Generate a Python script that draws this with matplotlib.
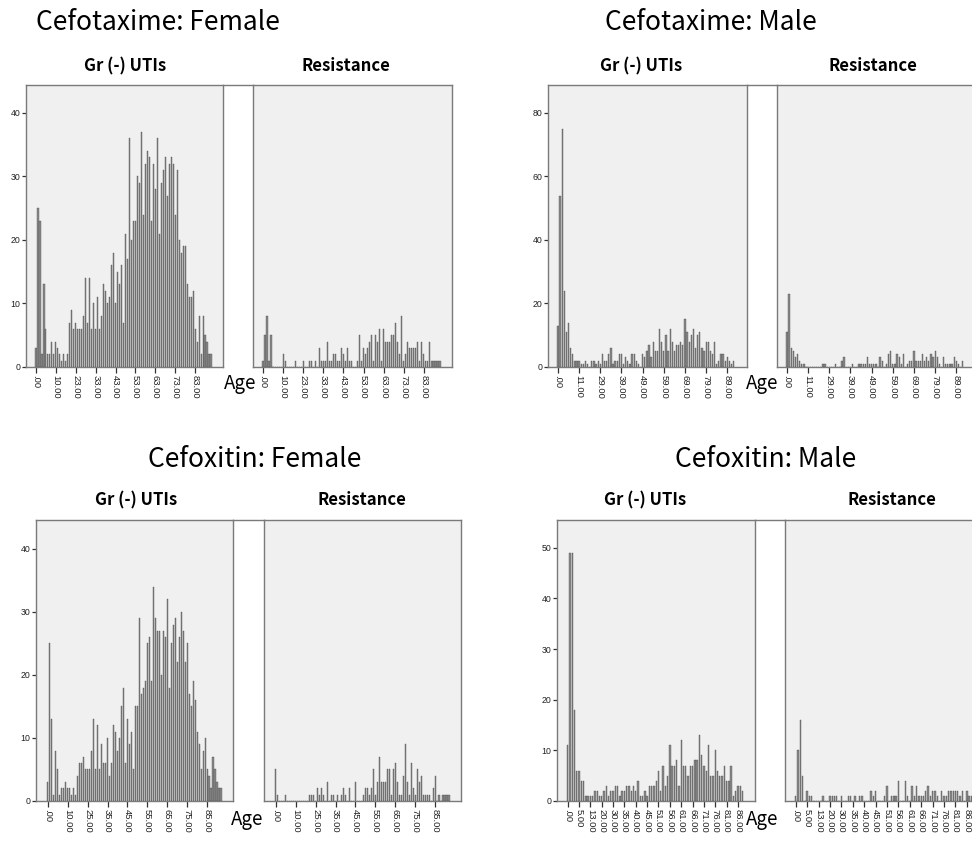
import numpy as np
import matplotlib
matplotlib.use("Agg")
import matplotlib.pyplot as plt
from matplotlib.lines import Line2D

# counts per age category (categorical x axis, SPSS style)
ctx_f_utis = [3, 25, 23, 2, 13, 6, 2, 2, 4, 2, 4, 3, 2, 1, 2, 1, 2, 7, 9, 6,
              7, 6, 6, 6, 8, 14, 7, 14, 6, 10, 6, 11, 6, 8, 13, 12, 10, 11, 16, 18,
              10, 15, 13, 16, 7, 21, 17, 36, 20, 23, 23, 30, 29, 37, 24, 32, 34, 33, 23, 32,
              28, 36, 21, 29, 31, 33, 27, 32, 33, 32, 24, 31, 20, 18, 19, 19, 13, 11, 11, 12,
              6, 4, 8, 2, 8, 5, 4, 2, 2]
ctx_f_res = [1, 5, 8, 1, 5, 0, 0, 0, 0, 0, 2, 1, 0, 0, 0, 0, 1, 0, 0, 0,
             1, 0, 0, 1, 1, 0, 1, 0, 3, 1, 1, 1, 4, 1, 1, 2, 2, 1, 1, 3,
             2, 1, 3, 1, 1, 0, 0, 1, 5, 1, 3, 2, 3, 4, 5, 1, 5, 4, 6, 1,
             6, 4, 4, 4, 5, 5, 7, 4, 2, 8, 1, 2, 4, 3, 3, 3, 3, 4, 1, 4,
             2, 1, 1, 4, 1, 1, 1, 1, 1]
ctx_f_ticks = [".00", "10.00", "23.00", "33.00", "43.00", "53.00", "63.00", "73.00", "83.00"]

ctx_m_utis = [13, 54, 75, 24, 11, 14, 6, 4, 2, 2, 2, 1, 1, 2, 1, 0, 2, 2, 1, 2,
              1, 4, 2, 2, 4, 6, 1, 2, 2, 4, 4, 1, 3, 2, 1, 4, 4, 2, 1, 0,
              4, 3, 5, 7, 3, 8, 5, 5, 12, 8, 5, 10, 5, 12, 8, 5, 7, 7, 8, 7,
              15, 11, 8, 10, 12, 6, 10, 11, 6, 5, 8, 8, 5, 4, 8, 1, 2, 4, 4, 2,
              3, 2, 1, 2]
ctx_m_res = [11, 23, 6, 5, 3, 4, 2, 1, 1, 0, 0, 0, 0, 0, 0, 0, 0, 1, 1, 0,
             0, 0, 0, 1, 0, 0, 2, 3, 0, 0, 0, 1, 0, 0, 1, 1, 1, 1, 3, 1,
             1, 1, 1, 0, 3, 2, 0, 1, 4, 5, 1, 1, 4, 3, 1, 4, 0, 1, 2, 2,
             5, 2, 2, 2, 4, 2, 3, 2, 4, 3, 5, 3, 1, 0, 3, 1, 1, 1, 1, 3,
             2, 1, 0, 2]
ctx_m_ticks = [".00", "11.00", "29.00", "39.00", "49.00", "59.00", "69.00", "79.00", "89.00"]

cfx_f_utis = [3, 25, 13, 1, 8, 5, 1, 2, 2, 3, 2, 2, 1, 2, 1, 4, 6, 6, 7, 5,
              5, 5, 8, 13, 5, 12, 5, 9, 6, 6, 10, 4, 6, 12, 11, 8, 10, 15, 18, 6,
              13, 9, 11, 5, 15, 15, 29, 17, 18, 19, 25, 26, 19, 34, 29, 27, 27, 20, 27, 26,
              32, 18, 25, 28, 29, 22, 26, 30, 27, 22, 25, 17, 15, 19, 16, 11, 9, 5, 8, 10,
              5, 4, 2, 7, 5, 3, 2, 2]
cfx_f_res = [5, 1, 0, 0, 0, 1, 0, 0, 0, 0, 0, 0, 0, 0, 0, 0, 0, 1, 1, 1,
             0, 2, 1, 2, 1, 0, 3, 0, 1, 1, 0, 1, 0, 1, 2, 1, 0, 2, 0, 0,
             3, 0, 0, 0, 1, 2, 2, 1, 2, 5, 1, 3, 7, 3, 3, 3, 5, 5, 1, 5,
             6, 3, 1, 1, 4, 9, 3, 1, 6, 2, 1, 5, 3, 4, 1, 1, 1, 1, 0, 2,
             4, 0, 1, 0, 1, 1, 1, 1]
cfx_f_ticks = [".00", "10.00", "25.00", "35.00", "45.00", "55.00", "65.00", "75.00", "85.00"]

cfx_m_utis = [11, 49, 49, 18, 6, 6, 4, 4, 1, 1, 1, 1, 2, 2, 1, 1, 2, 3, 1, 2,
              2, 3, 3, 1, 2, 2, 3, 3, 2, 3, 2, 4, 1, 1, 2, 1, 3, 3, 3, 4,
              6, 2, 7, 3, 5, 11, 7, 7, 8, 3, 12, 7, 7, 5, 7, 7, 8, 8, 13, 9,
              7, 6, 11, 5, 5, 10, 6, 5, 5, 7, 4, 4, 7, 1, 2, 3, 3, 2]
cfx_m_res = [1, 10, 16, 5, 0, 2, 1, 1, 0, 0, 0, 0, 1, 0, 0, 1, 1, 1, 1, 0,
             1, 0, 0, 1, 1, 0, 1, 0, 1, 1, 0, 0, 0, 2, 1, 2, 0, 0, 0, 1,
             3, 0, 1, 1, 1, 4, 0, 0, 4, 1, 0, 3, 1, 3, 1, 1, 1, 2, 3, 1,
             2, 2, 1, 0, 2, 1, 1, 2, 2, 2, 2, 2, 1, 2, 0, 2, 1, 1]
cfx_m_ticks = [".00", "5.00", "13.00", "20.00", "30.00", "35.00", "40.00", "45.00",
               "51.00", "56.00", "61.00", "66.00", "71.00", "76.00", "81.00", "86.00"]

W, H = 972, 860
BG = "#f0f0f0"
FRAME = "#7a7a7a"

fig = plt.figure(figsize=(W / 100, H / 100), dpi=100)


def px_axes(x0, y0, x1, y1):
    return fig.add_axes([x0 / W, 1 - y1 / H, (x1 - x0) / W, (y1 - y0) / H])


def ftext(x, y, s, **kw):
    fig.text(x / W, 1 - y / H, s, ha="center", va="center", **kw)


def style(ax, vals, ticks, step, xlim, ylim, yticks, show_y):
    ax.set_facecolor(BG)
    ax.bar(np.arange(len(vals)), vals, width=0.6, color="#8c8c8c",
           edgecolor="#404040", linewidth=0.25)
    ax.set_xlim(*xlim)
    ax.set_ylim(0, ylim)
    ax.set_xticks(np.arange(len(ticks)) * step)
    ax.set_xticklabels(ticks, rotation=-90, fontsize=6.8, family="Liberation Sans",
                       color="#222222")
    ax.tick_params(axis="x", length=4, width=0.9, color="#333333", pad=2)
    if show_y:
        ax.set_yticks(yticks)
        ax.set_yticklabels([str(v) for v in yticks], fontsize=6.3,
                           family="Liberation Sans", color="#222222")
        ax.tick_params(axis="y", length=3, width=0.9, color="#333333", pad=1)
    else:
        ax.set_yticks([])
    for s in ax.spines.values():
        s.set_color(FRAME)
        s.set_linewidth(1)


def panel_pair(utis, res, ticks, step, gr_box, res_box, xlim, ylim, yticks,
               title, title_xy, head_y, gr_hx, res_hx, age_xy):
    ax1 = px_axes(*gr_box)
    style(ax1, utis, ticks, step, xlim, ylim, yticks, True)
    ax2 = px_axes(*res_box)
    style(ax2, res, ticks, step, xlim, ylim, yticks, False)
    ty = 1 - gr_box[1] / H
    fig.add_artist(Line2D([gr_box[2] / W, res_box[0] / W], [ty, ty],
                          color=FRAME, lw=1))
    ftext(title_xy[0], title_xy[1], title, fontsize=19, family="Noto Sans CJK KR")
    ftext(gr_hx, head_y, "Gr (-) UTIs", fontsize=12, fontweight="bold",
          family="Noto Sans CJK KR")
    ftext(res_hx, head_y, "Resistance", fontsize=12, fontweight="bold",
          family="Noto Sans CJK KR")
    ftext(age_xy[0], age_xy[1], "Age", fontsize=13.5, family="Noto Sans CJK KR")


panel_pair(ctx_f_utis, ctx_f_res, ctx_f_ticks, 10, (26, 85, 223, 367), (253, 85, 452, 367),
           (-5, 94), 44.4, [0, 10, 20, 30, 40],
           "Cefotaxime: Female", (158, 22), 66, 125, 346, (240, 384))
panel_pair(ctx_m_utis, ctx_m_res, ctx_m_ticks, 10, (548, 85, 747, 367), (777, 85, 976, 367),
           (-4.7, 89.3), 88.8, [0, 20, 40, 60, 80],
           "Cefotaxime: Male", (711, 22), 66, 641, 873, (762, 384))
panel_pair(cfx_f_utis, cfx_f_res, cfx_f_ticks, 10, (36, 520, 233, 801), (264, 520, 461, 801),
           (-5.9, 93), 44.6, [0, 10, 20, 30, 40],
           "Cefoxitin: Female", (255, 460), 500, 136, 362, (247, 819))
panel_pair(cfx_m_utis, cfx_m_res, cfx_m_ticks, 5, (557, 520, 755, 801), (785, 520, 984, 801),
           (-4.7, 82.5), 55.5, [0, 10, 20, 30, 40, 50],
           "Cefoxitin: Male", (766, 460), 500, 645, 892, (762, 819))

fig.savefig("out.png", dpi=100, facecolor="white")
